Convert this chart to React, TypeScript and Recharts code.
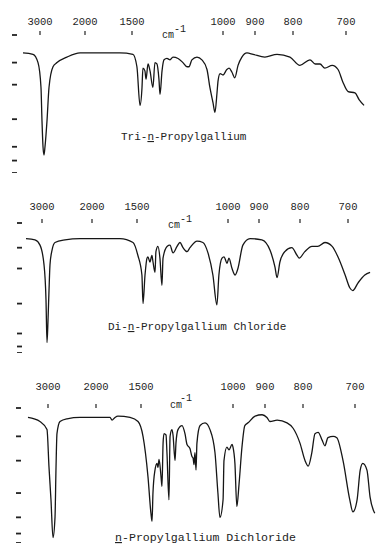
import React from 'react';
import { LineChart, Line, XAxis, YAxis } from 'recharts';

// ---- data (wavenumber in cm-1, transmittance-like % on each panel's own scale) ----
const WAVENUMBER_TICKS = [3000, 2000, 1500, 1000, 900, 800, 700];

const triWn = [3378,3156,3044,2978,2956,2933,2911,2889,2844,2800,2711,2622,2400,2111,1840,1628,1495,1473,1456,1445,1440,1429,1423,1412,1401,1385,1374,1363,1352,1346,1335,1324,1308,1291,1275,1247,1220,1198,1187,1171,1143,1116,1088,1072,1055,1044,1033,1027,1016,1000,988,981,972,963,953,941,925,906,874,842,808,787,768,758,749,740,726,715,706,696,683,675,666];
const triT = [87,86,80,62,38,19,13,19,38,62,77,80,84,87,87,87,86,77,49,62,76,74,68,79,74,62,80,79,68,57,74,82,83,82,84,83,80,77,77,82,84,82,75,62,51,44,58,67,72,71,75,76,73,69,78,84,87,86,84,86,84,78,82,79,79,76,78,75,66,59,58,53,49];

const diWn = [3320,3140,3040,2960,2920,2900,2880,2860,2840,2800,2740,2540,2240,1911,1689,1544,1495,1473,1467,1456,1445,1440,1429,1418,1412,1401,1396,1385,1374,1363,1357,1335,1319,1302,1280,1264,1247,1225,1209,1170,1138,1110,1083,1061,1050,1033,1022,1005,997,987,977,968,952,929,893,873,861,856,849,837,820,807,802,790,775,763,748,733,721,706,696,690,679,665,654];
const diT = [88,87,83,68,41,8,25,48,68,79,85,87,88,88,88,85,75,60,38,60,73,74,70,75,70,62,78,82,73,52,73,82,83,77,82,85,81,78,81,86,85,77,60,37,60,73,74,69,73,65,60,65,83,88,87,79,66,58,70,78,81,75,73,78,82,82,85,82,74,60,50,48,54,60,62];

const monoWn = [3417,3167,3021,2979,2938,2896,2854,2833,2813,2750,2604,2333,1956,1844,1822,1789,1756,1622,1533,1489,1462,1446,1440,1435,1424,1413,1408,1402,1391,1386,1380,1375,1364,1359,1348,1342,1332,1326,1315,1310,1299,1277,1261,1250,1234,1223,1217,1212,1207,1201,1196,1179,1152,1125,1098,1082,1071,1054,1049,1033,1022,1005,1000,994,988,981,972,963,953,931,909,895,887,868,842,826,808,796,790,783,777,771,763,758,752,742,735,723,710,704,696,690,685,677,671,662];
const monoT = [93,90,84,56,32,4,19,56,81,90,92,93,93,93,91,93,94,93,90,79,49,22,16,37,54,59,56,62,49,42,74,81,80,67,32,79,84,80,61,74,84,87,81,73,70,64,63,58,67,54,74,87,89,84,67,37,19,32,61,71,69,73,71,59,27,44,71,87,89,94,95,93,90,91,89,85,74,61,57,67,81,82,76,72,78,79,78,61,32,23,32,54,59,54,34,22];

// y-scale tick values (unlabelled dashes on the left)
const triYTicks = [100, 80, 64, 39, 19, 9, 0];
const diYTicks = [100, 81, 65, 38, 15, 5, 0];
const monoYTicks = [100, 79, 61, 37, 19, 7, 0];

// ---- axis configuration: grating chart is piecewise linear in wavenumber ----
// scan position (chart units) of each wavenumber tick, per recorded chart
const triScan = [40, 85, 132, 223, 255, 293, 346];
const diScan = [42, 92, 137, 228, 259, 300, 348];
const monoScan = [48, 96, 141, 233, 265, 303, 355];

function makeScan(scan: number[]) {
  const w = WAVENUMBER_TICKS;
  return (wn: number) => {
    let i = 0;
    if (wn >= w[1]) i = 0;
    else if (wn <= w[w.length - 2]) i = w.length - 2;
    else {
      for (let k = 0; k < w.length - 1; k++) {
        if (wn <= w[k] && wn >= w[k + 1]) { i = k; break; }
      }
    }
    const f = (wn - w[i]) / (w[i + 1] - w[i]);
    return scan[i] + f * (scan[i + 1] - scan[i]);
  };
}

function buildData(wn: number[], t: number[], scan: number[]) {
  const s = makeScan(scan);
  return wn.map((v, i) => ({ wn: v, pos: s(v), t: t[i] }));
}

const FONT = '"Liberation Mono", "DejaVu Sans Mono", monospace';
const W = 377;

type PanelProps = {
  data: { pos: number; t: number }[];
  scan: number[];
  yTicks: number[];
  top: number;
  height: number;
  xAxisHeight: number;
  yAxisWidth: number;
  tickMargin: number;
};

function Panel({ data, scan, yTicks, top, height, xAxisHeight, yAxisWidth, tickMargin }: PanelProps) {
  return (
    <div style={{ position: 'absolute', left: 0, top }}>
      <LineChart width={W} height={height} data={data} margin={{ top: 0, right: 0, bottom: 0, left: 0 }}>
        <XAxis
          xAxisId="x"
          type="number"
          dataKey="pos"
          orientation="top"
          domain={[yAxisWidth, W]}
          allowDataOverflow
          ticks={scan}
          interval={0}
          height={xAxisHeight}
          axisLine={false}
          tickSize={4}
          tickMargin={tickMargin}
          tickLine={{ stroke: '#222', strokeWidth: 1.2 }}
          tick={{ fill: '#1e1e1e', fontSize: 10.5, fontFamily: FONT }}
          tickFormatter={(_v: number, i: number) => String(WAVENUMBER_TICKS[i])}
        />
        <YAxis
          yAxisId="y"
          type="number"
          domain={[0, 100]}
          allowDataOverflow
          ticks={yTicks}
          interval={0}
          width={yAxisWidth}
          axisLine={false}
          tickSize={5}
          tickLine={{ stroke: '#222', strokeWidth: 1.8 }}
          tick={{ fontSize: 1, fill: 'none' }}
          tickFormatter={() => ''}
        />
        <Line
          xAxisId="x"
          yAxisId="y"
          type="monotone"
          dataKey="t"
          stroke="#161616"
          strokeWidth={1.3}
          dot={false}
          isAnimationActive={false}
        />
      </LineChart>
    </div>
  );
}

export default function App() {
  const tri = buildData(triWn, triT, triScan);
  const di = buildData(diWn, diT, diScan);
  const mono = buildData(monoWn, monoT, monoScan);
  const txt = { fontFamily: FONT, fill: '#222' } as const;
  return (
    <div style={{ position: 'absolute', left: 0, top: 0, width: W, height: 544, background: '#fff', overflow: 'hidden' }}>
      <Panel data={tri} scan={triScan} yTicks={triYTicks} top={0} height={173} xAxisHeight={35} yAxisWidth={17} tickMargin={6} />
      <Panel data={di} scan={diScan} yTicks={diYTicks} top={180} height={173} xAxisHeight={43} yAxisWidth={22} tickMargin={9} />
      <Panel data={mono} scan={monoScan} yTicks={monoYTicks} top={360} height={183} xAxisHeight={48} yAxisWidth={21} tickMargin={14} />
      <svg width={W} height={544} style={{ position: 'absolute', left: 0, top: 0, pointerEvents: 'none' }}>
        <text x={162} y={38} fontSize={10} style={txt}>cm</text>
        <text x={174} y={32} fontSize={10} style={txt}>-1</text>
        <text x={168} y={228} fontSize={10} style={txt}>cm</text>
        <text x={180} y={222} fontSize={10} style={txt}>-1</text>
        <text x={170} y={408} fontSize={10} style={txt}>cm</text>
        <text x={180} y={401} fontSize={10} style={txt}>-1</text>
        <text x={121} y={140} fontSize={11} style={txt}>
          Tri-<tspan style={{ textDecoration: 'underline' }}>n</tspan>-Propylgallium
        </text>
        <text x={108} y={330} fontSize={11} style={txt}>
          Di-<tspan style={{ textDecoration: 'underline' }}>n</tspan>-Propylgallium Chloride
        </text>
        <text x={115} y={541} fontSize={11.6} style={txt}>
          <tspan style={{ textDecoration: 'underline' }}>n</tspan>-Propylgallium Dichloride
        </text>
      </svg>
    </div>
  );
}
